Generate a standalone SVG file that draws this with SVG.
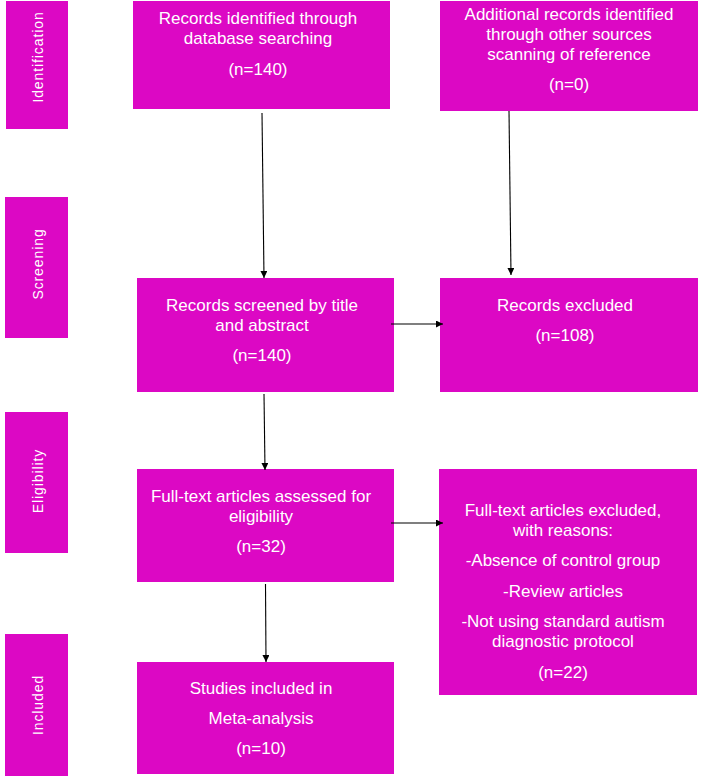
<svg xmlns="http://www.w3.org/2000/svg" width="702" height="776" viewBox="0 0 702 776">
<style>
.box{fill:#DC08C4;}
.t{font-family:"Liberation Sans",Arial,sans-serif;font-size:17px;fill:#ffffff;text-anchor:middle;}
.s{font-family:"Liberation Sans",Arial,sans-serif;font-size:14px;fill:#ffffff;text-anchor:middle;letter-spacing:0.9px;}
.c{stroke:#000000;stroke-width:1.1;fill:none;marker-end:url(#ah);}
</style>
<defs>
<marker id="ah" viewBox="0 0 10 10" refX="10" refY="5" markerWidth="7" markerHeight="7" markerUnits="userSpaceOnUse" orient="auto">
<path d="M0,0 L10,5 L0,10 z" fill="#000000"/>
</marker>
</defs>
<g id="stage-identification"><rect class="box" x="6" y="1" width="62" height="128"/><text class="s" transform="translate(42.5,57) rotate(-90)">Identification</text></g>
<g id="stage-screening"><rect class="box" x="5" y="197" width="63" height="141"/><text class="s" transform="translate(42.5,264) rotate(-90)">Screening</text></g>
<g id="stage-eligibility"><rect class="box" x="5" y="412" width="63" height="141"/><text class="s" transform="translate(42.5,481) rotate(-90)">Eligibility</text></g>
<g id="stage-included"><rect class="box" x="5" y="634" width="63" height="142"/><text class="s" transform="translate(42.5,705) rotate(-90)">Included</text></g>

<g id="box-db"><rect class="box" x="133" y="1" width="257" height="108"/>
<text class="t" x="258" y="24">Records identified through</text>
<text class="t" x="258" y="44">database searching</text>
<text class="t" x="258" y="75">(n=140)</text></g>

<g id="box-other"><rect class="box" x="440" y="1" width="258" height="110"/>
<text class="t" x="569" y="20">Additional records identified</text>
<text class="t" x="569" y="40">through other sources</text>
<text class="t" x="569" y="60">scanning of reference</text>
<text class="t" x="569" y="90">(n=0)</text></g>

<g id="box-screened"><rect class="box" x="137" y="278" width="257" height="114"/>
<text class="t" x="262" y="311">Records screened by title</text>
<text class="t" x="262" y="331">and abstract</text>
<text class="t" x="262" y="361">(n=140)</text></g>

<g id="box-excluded"><rect class="box" x="440" y="278" width="258" height="114"/>
<text class="t" x="565" y="311">Records excluded</text>
<text class="t" x="565" y="341">(n=108)</text></g>

<g id="box-fulltext"><rect class="box" x="137" y="469" width="257" height="113"/>
<text class="t" x="261" y="502">Full-text articles assessed for</text>
<text class="t" x="261" y="522">eligibility</text>
<text class="t" x="261" y="552">(n=32)</text></g>

<g id="box-ft-excluded"><rect class="box" x="439" y="469" width="258" height="226"/>
<text class="t" x="563" y="516">Full-text articles excluded,</text>
<text class="t" x="563" y="536">with reasons:</text>
<text class="t" x="563" y="566">-Absence of control group</text>
<text class="t" x="563" y="597">-Review articles</text>
<text class="t" x="563" y="627">-Not using standard autism</text>
<text class="t" x="563" y="647">diagnostic protocol</text>
<text class="t" x="563" y="678">(n=22)</text></g>

<g id="box-included"><rect class="box" x="137" y="662" width="257" height="112"/>
<text class="t" x="261" y="694">Studies included in</text>
<text class="t" x="261" y="724">Meta-analysis</text>
<text class="t" x="261" y="754">(n=10)</text></g>

<g id="connectors">
<line class="c" x1="262" y1="113" x2="264" y2="278"/>
<line class="c" x1="509" y1="111" x2="511" y2="275"/>
<line class="c" x1="391" y1="324" x2="443" y2="324"/>
<line class="c" x1="264" y1="394" x2="265" y2="470"/>
<line class="c" x1="391" y1="523" x2="443" y2="523"/>
<line class="c" x1="265.5" y1="584" x2="266" y2="662"/>
</g>
</svg>
